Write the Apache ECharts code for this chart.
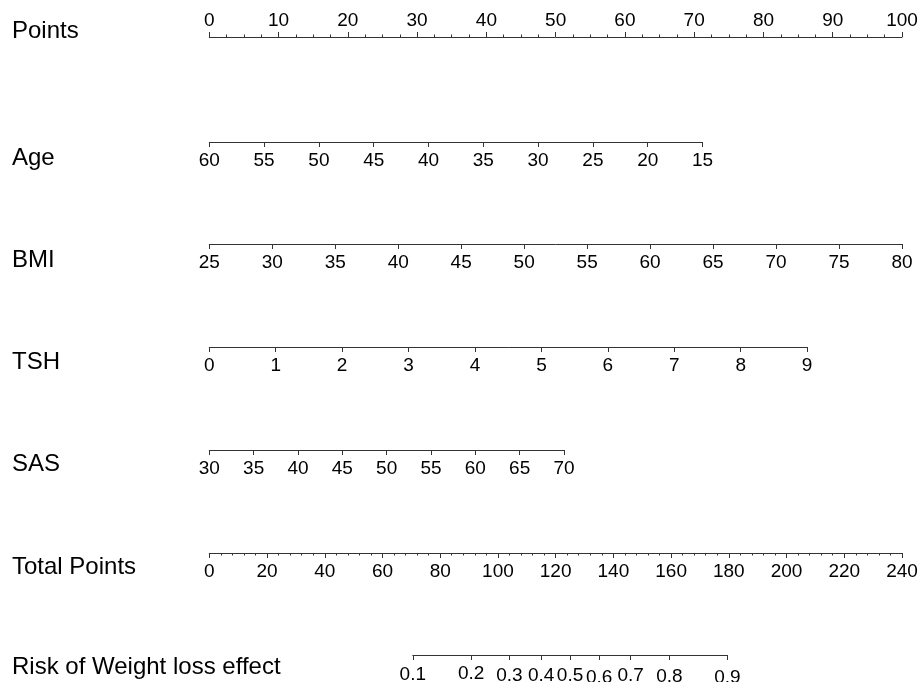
<!DOCTYPE html>
<html>
<head>
<meta charset="utf-8">
<script src="https://cdn.jsdelivr.net/npm/echarts@6/dist/echarts.min.js"></script>
<style>
html,body{margin:0;padding:0;background:#fff;}
#chart{width:921px;height:682px;}
</style>
</head>
<body>
<div id="chart"></div>
<script>
// ---- data ----
const rowTitles = ["Points", "Age", "BMI", "TSH", "SAS", "Total Points", "Risk of Weight loss effect"];
// Points scale
const pointsRange = [0, 100];
const pointsInterval = 10;
// Age: value at left end -> right end, and points at those ends
const ageValues = [60, 15];
const agePoints = [0, 71.2];
const ageInterval = 5;
// BMI
const bmiValues = [25, 80];
const bmiPoints = [0, 100];
const bmiInterval = 5;
// TSH
const tshValues = [0, 9];
const tshPoints = [0, 86.3];
const tshInterval = 1;
// SAS
const sasValues = [30, 70];
const sasPoints = [0, 51.2];
const sasInterval = 5;
// Total points
const totalRange = [0, 240];
const totalInterval = 20;
// Risk: probabilities and the total points at which they sit
const riskProbs = [0.1, 0.2, 0.3, 0.4, 0.5, 0.6, 0.7, 0.8, 0.9];
const riskTotals = [70.5, 90.7, 104.0, 115.0, 125.0, 135.1, 146.0, 159.4, 179.5];

// ---- layout ----
const axisLeft = 209.3, axisWidth = 692.7;
const rowY = [37, 142, 244, 347, 450, 553, 655];
const titleY = [31, 158, 260, 362, 464, 567, 667];
const riskLabelShift = [1, 0, 2, 2, 2, 4, 2, 3, 4];
const lineColor = '#333333';
const font = '"Liberation Sans", Arial, Helvetica, sans-serif';
const tickFont = 19, titleFont = 24;

function gridFor(ptsLo, ptsHi, y, scaleMax) {
  const m = scaleMax || 100;
  const left = axisLeft + ptsLo / m * axisWidth;
  const width = (ptsHi - ptsLo) / m * axisWidth;
  return { left: left, width: width, top: y - 10, height: 10, containLabel: false, outerBoundsMode: 'none' };
}

const grids = [
  gridFor(pointsRange[0], pointsRange[1], rowY[0]),
  gridFor(agePoints[0], agePoints[1], rowY[1]),
  gridFor(bmiPoints[0], bmiPoints[1], rowY[2]),
  gridFor(tshPoints[0], tshPoints[1], rowY[3]),
  gridFor(sasPoints[0], sasPoints[1], rowY[4]),
  gridFor(0, 100, rowY[5]),
  gridFor(riskTotals[0], riskTotals[riskTotals.length - 1], rowY[6], totalRange[1])
];

const labelStyle = { color: '#000', fontSize: tickFont, fontFamily: font, margin: 9, showMinLabel: true, showMaxLabel: true };
const lineStyle = { show: true, lineStyle: { color: lineColor, width: 1 } };
const tickStyle = { show: true, length: 5, lineStyle: { color: lineColor, width: 1 } };

function axis(gi, lo, hi, interval, opts) {
  const a = Object.assign({
    type: 'value', gridIndex: gi, min: lo, max: hi,
    position: 'bottom',
    axisLine: lineStyle, axisTick: tickStyle,
    axisLabel: Object.assign({}, labelStyle),
    splitLine: { show: false }
  }, opts || {});
  if (interval != null) a.interval = interval;
  return a;
}

const riskRich = {};
riskLabelShift.forEach(function (s, i) {
  riskRich['r' + i] = { fontSize: tickFont, fontFamily: font, color: '#000', padding: [s, 0, 0, 0] };
});

const xAxes = [
  axis(0, pointsRange[0], pointsRange[1], pointsInterval, {
    axisTick: Object.assign({}, tickStyle, { inside: true }),
    axisLabel: Object.assign({}, labelStyle, { inside: true, margin: 7 }),
    minorTick: { show: true, splitNumber: 4, length: 2.5, lineStyle: { color: lineColor, width: 1 } }
  }),
  axis(1, Math.min(ageValues[0], ageValues[1]), Math.max(ageValues[0], ageValues[1]), ageInterval, { inverse: ageValues[0] > ageValues[1] }),
  axis(2, bmiValues[0], bmiValues[1], bmiInterval),
  axis(3, tshValues[0], tshValues[1], tshInterval),
  axis(4, sasValues[0], sasValues[1], sasInterval),
  axis(5, totalRange[0], totalRange[1], totalInterval, {
    minorTick: { show: true, splitNumber: 5, length: 2.5, lineStyle: { color: lineColor, width: 1 } }
  }),
  axis(6, riskTotals[0], riskTotals[riskTotals.length - 1], null, {
    axisTick: Object.assign({}, tickStyle, { customValues: riskTotals }),
    axisLabel: Object.assign({}, labelStyle, {
      customValues: riskTotals,
      rich: riskRich,
      formatter: function (v) {
        let best = 0;
        riskTotals.forEach(function (t, i) { if (Math.abs(t - v) < Math.abs(riskTotals[best] - v)) best = i; });
        return '{r' + best + '|' + String(riskProbs[best]) + '}';
      }
    })
  })
];

const yAxes = grids.map(function (g, i) {
  return { type: 'value', gridIndex: i, show: false, min: 0, max: 1 };
});

const graphics = rowTitles.map(function (t, i) {
  return {
    type: 'text', left: 12, top: titleY[i] - titleFont / 2,
    style: { text: t, fontSize: titleFont, fontFamily: font, fill: '#000', verticalAlign: 'top' }
  };
});

const chart = echarts.init(document.getElementById('chart'), null, { renderer: 'canvas' });
chart.setOption({
  animation: false,
  backgroundColor: '#fff',
  grid: grids,
  xAxis: xAxes,
  yAxis: yAxes,
  graphic: graphics,
  series: []
});
</script>
</body>
</html>
